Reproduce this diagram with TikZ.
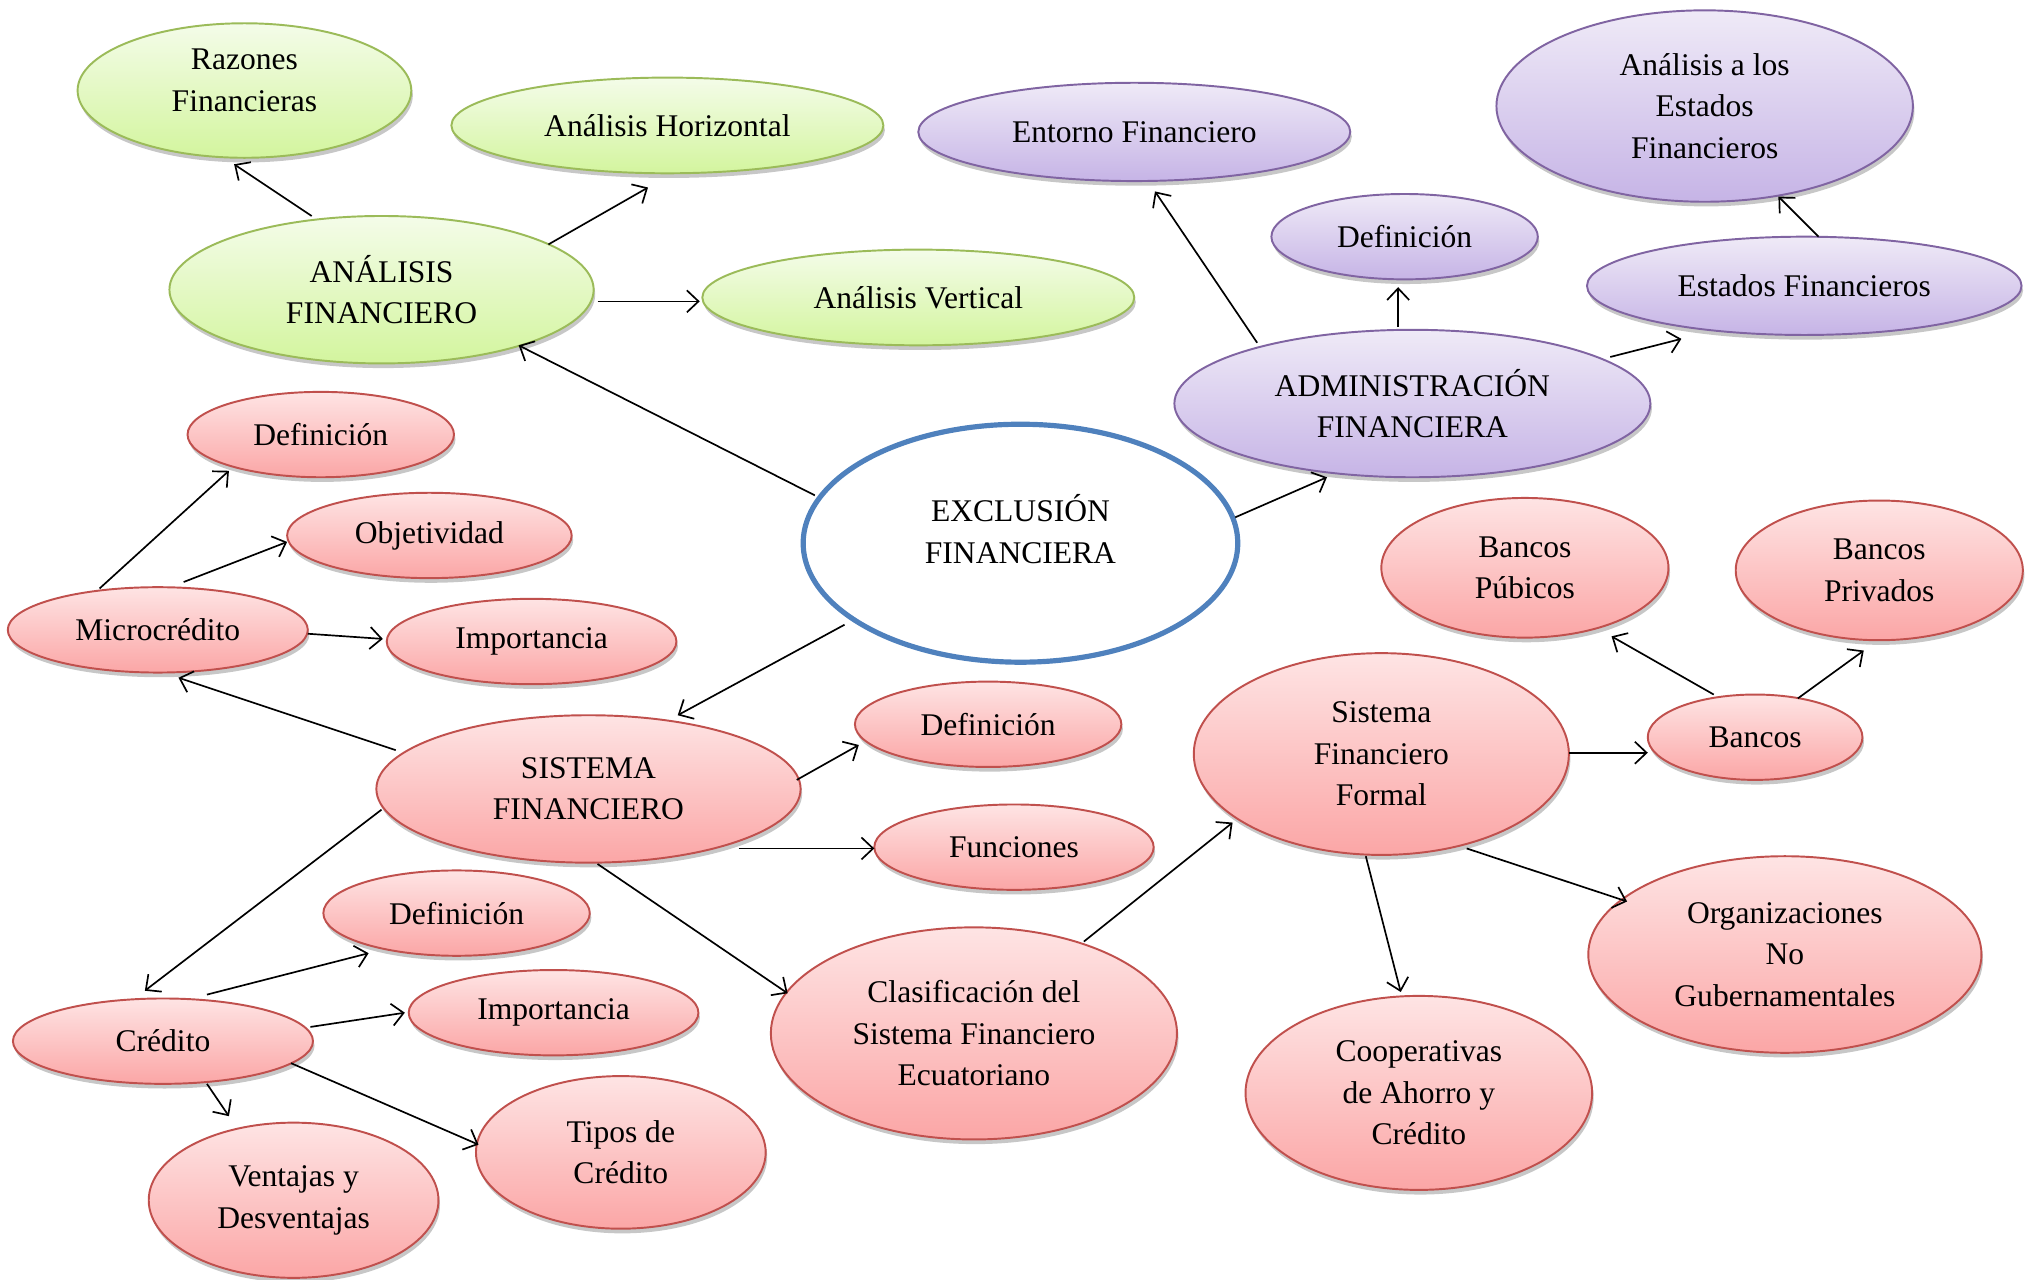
\documentclass[tikz,border=0pt]{standalone}
\usepackage{fontspec}
\setmainfont{Liberation Serif}
\usetikzlibrary{shapes.geometric,arrows.meta,calc,shadows}
\definecolor{redT}{HTML}{FEE4E4}
\definecolor{redB}{HTML}{FBA6A6}
\definecolor{redD}{HTML}{C0504D}
\definecolor{grnT}{HTML}{F4FCE9}
\definecolor{grnB}{HTML}{D3F59E}
\definecolor{grnD}{HTML}{9BBB59}
\definecolor{purT}{HTML}{EFEAF7}
\definecolor{purB}{HTML}{C6B4E6}
\definecolor{purD}{HTML}{8064A2}
\definecolor{bluD}{HTML}{4F81BD}
\begin{document}
\begin{tikzpicture}[x=0.5pt,y=-0.5pt,
  sz/.style 2 args={minimum width=#1pt, minimum height=#2pt},
  bub/.style={ellipse, inner sep=0pt, align=center,
    font=\fontsize{12.2pt}{16pt}\selectfont, line width=0.75pt,
    drop shadow={shadow xshift=0.6pt,shadow yshift=-1.8pt,fill=black,opacity=0.22}},
  redb/.style={bub, draw=redD, top color=redT, bottom color=redB},
  grnb/.style={bub, draw=grnD, top color=grnT, bottom color=grnB},
  purb/.style={bub, draw=purD, top color=purT, bottom color=purB},
  ctrb/.style={ellipse, inner sep=0pt, draw=bluD, fill=white, line width=2pt},
  txt/.style={align=center, font=\fontsize{12.2pt}{16pt}\selectfont},
  arr/.style={-{Straight Barb[length=4.5pt,width=8.5pt]}, line width=0.65pt}
]
\useasboundingbox (0,0) rectangle (1568,989);

% green
\node[grnb, sz={129}{52}, label={[txt,yshift=4pt]center:Razones\\Financieras}] (razones) at (189,70) {};
\node[grnb, sz={167}{37}] (horiz) at (516,97) {Análisis Horizontal};
\node[grnb, sz={164}{57}] (af) at (295,224) {ANÁLISIS\\FINANCIERO};
\node[grnb, sz={167}{37}] (vert) at (710,230) {Análisis Vertical};

% purple
\node[purb, sz={167}{38}] (entorno) at (877,102) {Entorno Financiero};
\node[purb, sz={103}{33}] (defP) at (1086,183) {Definición};
\node[purb, sz={161}{74}] (aef) at (1318,82) {Análisis a los\\Estados\\Financieros};
\node[purb, sz={168}{38}] (ef) at (1395,221) {Estados Financieros};
\node[purb, sz={184}{57}] (admin) at (1092,312) {ADMINISTRACIÓN\\FINANCIERA};

% centre
\node[ctrb, sz={168}{92}, label={[txt,yshift=5.5pt]center:EXCLUSIÓN\\FINANCIERA}] (excl) at (789,420) {};

% red
\node[redb, sz={103}{33}] (def1) at (248,336) {Definición};
\node[redb, sz={110}{33}] (obj) at (332,414) {Objetividad};
\node[redb, sz={116}{33}] (micro) at (122,487) {Microcrédito};
\node[redb, sz={112}{33}] (imp1) at (411,496) {Importancia};
\node[redb, sz={164}{57}] (sf) at (455,610) {SISTEMA\\FINANCIERO};
\node[redb, sz={103}{33}] (def2) at (764,560) {Definición};
\node[redb, sz={108}{33}] (func) at (784,655) {Funciones};
\node[redb, sz={145}{78}] (sff) at (1068,583) {Sistema\\Financiero\\Formal};
\node[redb, sz={83}{33}] (bancos) at (1357,570) {Bancos};
\node[redb, sz={111}{54}] (bpub) at (1179,439) {Bancos\\Púbicos};
\node[redb, sz={111}{54}] (bpriv) at (1453,441) {Bancos\\Privados};
\node[redb, sz={152}{76}] (ong) at (1380,738) {Organizaciones\\No\\Gubernamentales};
\node[redb, sz={134}{75}] (coop) at (1097,845) {Cooperativas\\de Ahorro y\\Crédito};
\node[redb, sz={157}{82}] (clas) at (753,799) {Clasificación del\\Sistema Financiero\\Ecuatoriano};
\node[redb, sz={103}{33}] (def3) at (353,706) {Definición};
\node[redb, sz={116}{33}] (cred) at (126,805) {Crédito};
\node[redb, sz={112}{33}] (imp2) at (428,783) {Importancia};
\node[redb, sz={112}{59}] (tipos) at (480,891) {Tipos de\\Crédito};
\node[redb, sz={112}{60}] (vent) at (227,928) {Ventajas y\\Desventajas};

% connectors
\draw[arr] ($(af)+(-54,-57)$) -- ($(razones)+(-8,57)$);
\draw[arr] ($(af)+(129,-35)$) -- ($(horiz)+(-15,48)$);
\draw[arr] ($(af)+(167,9)$) -- ($(vert)+(-169,3)$);
\draw[arr] ($(excl)+(-159,-37)$) -- ($(af)+(106,43)$);
\draw[arr] ($(excl)+(166,-20)$) -- ($(admin)+(-66,57)$);
\draw[arr] ($(admin)+(-120,-47)$) -- ($(entorno)+(16,46)$);
\draw[arr] ($(admin)+(-11,-59)$) -- ($(defP)+(-5,39)$);
\draw[arr] ($(admin)+(153,-36)$) -- ($(ef)+(-95,41)$);
\draw[arr] ($(ef)+(11,-38)$) -- ($(aef)+(57,70)$);
\draw[arr] ($(excl)+(-136,63)$) -- ($(sf)+(69,-57)$);
\draw[arr] ($(sf)+(-149,-30)$) -- ($(micro)+(16,37)$);
\draw[arr] ($(micro)+(-45,-32)$) -- ($(def1)+(-71,28)$);
\draw[arr] ($(micro)+(20,-37)$) -- ($(obj)+(-110,5)$);
\draw[arr] ($(micro)+(116,3)$) -- ($(imp1)+(-115,-2)$);
\draw[arr] ($(sf)+(161,-7)$) -- ($(def2)+(-100,16)$);
\draw[arr] ($(sf)+(116,46)$) -- ($(func)+(-108,1)$);
\draw[arr] ($(sf)+(7,58)$) -- ($(clas)+(-144,-31)$);
\draw[arr] ($(sf)+(-160,16)$) -- ($(cred)+(-14,-39)$);
\draw[arr] ($(cred)+(34,-36)$) -- ($(def3)+(-68,31)$);
\draw[arr] ($(cred)+(114,-11)$) -- ($(imp2)+(-115,0)$);
\draw[arr] ($(cred)+(99,17)$) -- ($(tipos)+(-110,-6)$);
\draw[arr] ($(cred)+(34,33)$) -- ($(vent)+(-50,-65)$);
\draw[arr] ($(clas)+(85,-71)$) -- ($(sff)+(-115,53)$);
\draw[arr] ($(sff)+(145,-1)$) -- ($(bancos)+(-83,12)$);
\draw[arr] ($(sff)+(66,73)$) -- ($(ong)+(-122,-41)$);
\draw[arr] ($(sff)+(-12,79)$) -- ($(coop)+(-14,-78)$);
\draw[arr] ($(bancos)+(-32,-33)$) -- ($(bpub)+(67,53)$);
\draw[arr] ($(bancos)+(33,-30)$) -- ($(bpriv)+(-12,62)$);
\end{tikzpicture}
\end{document}
